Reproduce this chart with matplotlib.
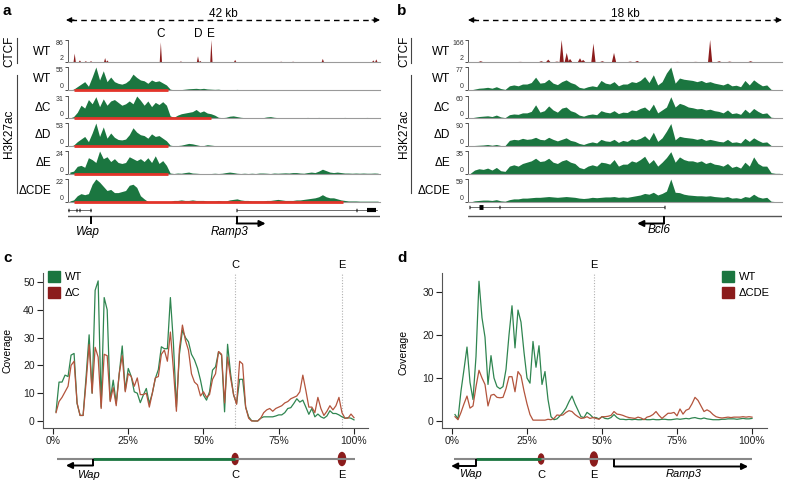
import numpy as np
import matplotlib
matplotlib.use("Agg")
import matplotlib.pyplot as plt
from matplotlib.patches import Ellipse, Patch

plt.rcParams['font.family'] = ['Liberation Sans', 'DejaVu Sans']

W, H = 788, 482
GREEN = '#1b7640'
DARKRED = '#8b1c1c'
BRIGHTRED = '#e3342a'
GREY = '#9a9a9a'
LINE_GREEN = '#2f8550'
LINE_RED = '#b3543c'

# ---------------- panel a data (42 kb locus, 0.5 kb bins) ----------------
a_len_kb = 42
a_bin_kb = 0.5
a_ctcf_pos = [0.9, 1.6, 2.4, 3.1, 5.0, 5.3, 12.5, 15.2, 17.5, 17.8, 19.3, 22.5, 28.7, 30.3, 34.3, 41.1, 41.5]
a_ctcf_val = [34, 8, 5, 5, 17, 8, 77, 4, 24, 6, 86, 10, 3, 3, 14, 8, 12]
a_sites = {'C': 12.5, 'D': 17.5, 'E': 19.3}

a_wt = [0, 2, 8, 14, 20, 9, 31, 55, 24, 46, 20, 31,
        20, 16, 14, 17, 24, 38, 30, 24, 22, 16, 24, 20,
        22, 17, 12, 2, 0.5, 0.5, 1, 2, 3, 3.5, 4, 3,
        4, 2.5, 2, 1.5, 2, 0.5, 0.5, 1, 0.5, 1.5, 0.5, 0.3,
        0.3, 0.5, 0.3, 0.3, 0.3, 0.3, 0.5, 0.3, 0.3, 0.3, 0.3, 0.3,
        0.3, 0.3, 0.5, 0.3, 0.3, 0.3, 0.3, 0.3, 0.5, 0.3, 0.3, 0.3,
        0.3, 0.3, 0.3, 0.3, 0.3, 0.3, 0.3, 0.3, 0.3, 0.3, 0.3, 0.3]
a_dc = [0, 2, 8, 18, 14, 26, 20, 30, 16, 27, 18, 24,
        26, 22, 18, 20, 24, 20, 31, 25, 18, 24, 16, 22,
        19, 23, 18, 3, 1, 4, 6, 7, 8, 9, 12, 8,
        10, 7, 6, 4, 1, 0.5, 1, 2.5, 3, 2, 1, 0.5,
        0.5, 0.5, 0.5, 0.5, 0.5, 1.5, 2, 1, 0.5, 0.5, 0.5, 0.5,
        0.5, 0.5, 0.5, 0.5, 0.8, 0.5, 0.5, 0.8, 0.5, 0.5, 0.5, 0.5,
        0.5, 0.5, 0.8, 0.5, 0.5, 0.5, 0.5, 0.5, 0.8, 0.5, 0.5, 0.5]
a_dd = [0, 2, 10, 16, 22, 10, 30, 53, 22, 44, 18, 30,
        20, 15, 14, 16, 26, 42, 32, 26, 24, 18, 28, 22,
        24, 18, 12, 2, 0.5, 1, 2, 4, 6, 5, 3, 1,
        1, 3, 2, 1, 0.5, 0.5, 0.5, 1, 0.5, 0.5, 0.5, 0.5,
        0.5, 0.5, 0.5, 0.5, 0.5, 0.5, 0.5, 0.5, 0.5, 0.5, 0.5, 0.5,
        0.5, 0.5, 0.5, 0.5, 0.5, 0.5, 0.5, 0.8, 0.5, 0.5, 0.5, 0.5,
        0.5, 0.5, 0.5, 0.5, 0.5, 0.5, 0.5, 0.5, 0.5, 0.5, 0.5, 0.5]
a_de = [2, 3, 8, 9, 7, 17, 15, 12, 24, 16, 18, 13,
        16, 12, 11, 12, 18, 16, 14, 16, 13, 17, 12, 19,
        11, 14, 9, 1, 0.5, 1, 0.8, 1.5, 2, 1, 0.8, 0.5,
        0.5, 0.5, 0.5, 0.8, 0.5, 0.8, 1.5, 2, 1.5, 0.8, 0.5, 0.8,
        0.5, 0.8, 0.5, 1, 1, 0.8, 0.5, 1, 0.8, 1, 1.2, 1,
        1.5, 1.5, 1, 0.8, 1.5, 2, 1.5, 3, 5, 3.5, 2, 1.5,
        2, 1.5, 1, 1, 0.8, 1, 0.8, 1, 0.8, 0.8, 1, 0.8]
a_dcde = [1, 2, 6, 8, 7, 8, 17, 22, 19, 15, 11, 12,
          9, 9, 10, 11, 16, 17, 14, 6, 3, 0.5, 0.3, 0.3,
          0.3, 0.3, 0.3, 0.3, 1.5, 1.5, 2, 1.5, 1.5, 2, 1.5, 1.5,
          1.5, 1, 1, 1, 1.5, 1, 1, 2, 2.5, 3, 2, 1.5,
          1.5, 1, 1, 1, 1, 1.5, 1.5, 2, 2.5, 2, 1.5, 1.5,
          1.5, 2, 2, 2.5, 3, 3.5, 4, 5, 7, 5, 4, 4,
          3, 2, 1.5, 1, 1, 1, 0.8, 0.8, 0.8, 0.8, 0.8, 0.8]
a_names = ['WT', '\u0394C', '\u0394D', '\u0394E', '\u0394CDE']
a_max = [55, 31, 53, 24, 22]
a_red = [(0.8, 13.5), (0.8, 19.3), (0.8, 13.5), (0.8, 13.5), (0.8, 37.0)]

# ---------------- panel b data (18 kb locus, 0.25 kb bins) ----------------
b_len_kb = 18
b_bin_kb = 0.25
b_ctcf_pos = [0.73, 3.0, 4.2, 4.6, 5.1, 5.37, 5.66, 5.85, 6.42, 6.6, 7.19, 7.7, 8.37, 9.3, 9.7,
              12.0, 13.05, 13.88, 14.4, 15.0, 16.2]
b_ctcf_val = [8, 3, 8, 20, 5, 166, 70, 25, 30, 18, 140, 8, 70, 5, 10, 3, 3, 166, 8, 5, 8]

b_wt = [0, 3, 6, 7, 9, 6, 11, 5, 2, 14, 17, 14,
        20, 20, 25, 43, 23, 25, 36, 23, 18, 28, 34, 25,
        20, 9, 6, 11, 14, 11, 32, 23, 20, 28, 14, 20,
        20, 28, 25, 32, 45, 25, 51, 17, 28, 57, 77, 23,
        40, 36, 34, 32, 28, 32, 25, 28, 23, 20, 17, 23,
        14, 16, 11, 32, 17, 34, 23, 14, 17, 2, 1, 1]
b_dc = [0, 2, 4, 5, 6, 4, 8, 3, 1, 9, 11, 10,
        14, 14, 18, 36, 16, 20, 33, 22, 16, 27, 30, 20,
        16, 8, 5, 9, 11, 9, 20, 16, 14, 20, 12, 16,
        15, 22, 20, 26, 30, 20, 38, 14, 22, 30, 58, 30,
        40, 36, 30, 28, 25, 26, 22, 24, 20, 18, 14, 22,
        12, 14, 10, 24, 14, 26, 18, 12, 14, 2, 1, 1]
b_dd = [0, 2, 3, 4, 6, 3, 6, 2, 2, 22, 26, 24,
        30, 26, 28, 34, 26, 24, 34, 26, 20, 26, 32, 22,
        18, 10, 6, 12, 16, 12, 26, 20, 18, 26, 14, 22,
        18, 28, 24, 30, 40, 24, 54, 18, 32, 58, 88, 24,
        38, 34, 32, 30, 26, 30, 22, 26, 22, 18, 16, 26,
        14, 16, 12, 30, 18, 32, 22, 14, 16, 2, 1, 1]
b_de = [1, 6, 8, 7, 9, 6, 10, 5, 4, 12, 14, 12,
        16, 18, 20, 24, 19, 20, 24, 18, 16, 20, 22, 18,
        16, 10, 8, 12, 14, 12, 18, 17, 15, 22, 12, 15,
        15, 20, 18, 22, 27, 16, 22, 12, 18, 25, 34, 18,
        26, 22, 20, 20, 18, 20, 16, 18, 15, 14, 12, 16,
        10, 12, 9, 18, 12, 26, 16, 12, 12, 2, 1, 1]
b_dcde = [0, 3, 4, 5, 5, 4, 6, 3, 2, 6, 8, 8,
          10, 10, 11, 12, 12, 13, 14, 13, 12, 13, 14, 13,
          12, 10, 9, 10, 12, 11, 12, 13, 13, 14, 12, 13,
          12, 14, 16, 18, 22, 20, 25, 18, 22, 28, 59, 25,
          24, 20, 18, 17, 16, 16, 15, 16, 14, 13, 12, 14,
          10, 11, 9, 14, 12, 20, 13, 10, 12, 2, 1, 1]
b_max = [77, 60, 90, 35, 59]

# ---------------- panels c / d data (coverage per percent of region) ----------------
pct = np.arange(1, 101)
c_wt = [3.3, 14, 14, 16.5, 16, 23.7, 24.3, 6.3, 2, 2,
        16, 31, 10, 47, 50.4, 5, 44.4, 40, 7.5, 14.7,
        6.3, 17, 27, 11, 18.9, 16, 10.5, 10, 6.6, 9.3,
        11.7, 6.3, 10, 15.3, 18.5, 26.7, 26, 26, 44.4, 28,
        5, 24, 32.7, 30, 28.5, 24, 22, 19, 14.7, 9.3,
        7.5, 10.5, 18.3, 19.5, 24.9, 23.7, 3.3, 27.6, 17, 9.3,
        6.3, 15, 15, 5, 1.5, 0.1, 0, 0, 1, 1.5,
        1.5, 1.5, 1.5, 1.8, 2.2, 2.2, 3, 4.5, 4.8, 6.3,
        8, 6.8, 7.5, 5, 2.4, 4.5, 1.5, 2.5, 1.5, 1,
        1.8, 3.7, 2.7, 2.7, 2.2, 1.5, 1, 1.2, 1, 0.4]
c_dc = [3, 7, 8.5, 10.5, 12.5, 20, 21.5, 6.5, 2, 2,
        14, 27.5, 10, 26.5, 23, 4.5, 24, 23.5, 7, 12,
        5.5, 17, 23.5, 10.5, 17, 16, 12.5, 15.5, 9.5, 9.5,
        10, 5, 10, 15.5, 16, 24, 25.5, 21.5, 32, 18.5,
        3.5, 26, 34.5, 29, 25.5, 17, 14, 13, 9, 10.5,
        8.5, 9.5, 15, 17, 25, 24, 6.5, 23, 15.5, 9.5,
        6, 21.5, 20.5, 5, 1, 0, 0, 0, 1, 3,
        4, 4.5, 3.5, 4.5, 5, 5.5, 6.5, 7, 8, 8.5,
        9, 10.5, 16.5, 11, 5, 5, 3, 8.5, 4.5, 2,
        3.5, 5.5, 4, 5.5, 8.5, 3, 1, 1, 2.5, 1.2]
d_wt = [1.5, 0.5, 7, 12, 17.2, 9, 5, 15, 32.5, 24,
        19.5, 8.5, 15.2, 10, 8, 7.5, 8, 12, 20, 26.8,
        17, 25.8, 23, 16, 10, 8.8, 18.5, 12.5, 17.5, 8.5,
        11.5, 5, 1, 0.3, 0.5, 1.2, 2, 3, 4.5, 5.8,
        4, 2.5, 1, 0.8, 2, 1.5, 0.8, 0.8, 0.5, 1,
        0.6, 0.5, 0.8, 1.5, 0.8, 0.4, 0.4, 0.3, 0.4, 0.3,
        0.4, 0.3, 0.3, 0.4, 0.3, 0.3, 0.4, 0.3, 0.3, 0.4,
        0.4, 0.3, 0.3, 0.4, 0.5, 0.4, 0.5, 0.6, 0.5, 0.7,
        0.8, 0.6, 0.5, 0.7, 0.5, 0.4, 0.3, 0.3, 0.3, 0.4,
        0.4, 0.5, 0.5, 0.5, 0.4, 0.5, 0.6, 0.5, 0.5, 0.6]
d_dcde = [1, 0.3, 2, 4, 5.8, 3, 3.5, 8, 11.8, 10,
          8.5, 3.5, 6, 6.2, 5.5, 5.4, 5.5, 7.5, 10.3, 10.3,
          6.8, 11.5, 10.5, 7, 4, 1.5, 0.2, 0.2, 0.2, 0.2,
          0.2, 0.4, 0.3, 0.6, 1.4, 1.3, 1.4, 2, 2.4, 2.2,
          1.5, 1, 0.6, 0.7, 1, 0.6, 0.8, 0.6, 0.4, 1,
          1, 1.1, 1.3, 2.2, 1.6, 1.5, 1.3, 1, 0.8, 0.7,
          0.6, 0.9, 0.7, 0.3, 0.9, 1.1, 1.5, 2.2, 1.3, 0.6,
          1.2, 1.8, 1.8, 2, 1.2, 2.8, 1.6, 2.5, 2.8, 4,
          5.5, 4.8, 3.5, 2.2, 2.6, 2.2, 1.5, 1, 0.8, 0.7,
          0.8, 0.9, 0.8, 0.9, 0.9, 0.9, 1, 0.9, 1, 0.9]

fig = plt.figure(figsize=(W / 100, H / 100), dpi=100)


def px_axes(x0, y0, x1, y1):
    # axes placed by pixel box (y measured from the top)
    return fig.add_axes([x0 / W, 1 - y1 / H, (x1 - x0) / W, (y1 - y0) / H])


ov = px_axes(0, 0, W, H)
ov.set_xlim(0, W)
ov.set_ylim(H, 0)
ov.axis('off')

rows = [(40, 62), (67, 90), (96, 118), (123, 146), (151, 174), (179, 202)]


def track_axes(x0, x1, top, base, length, ymin, ymax, lo_lab, hi_lab):
    ax = px_axes(x0, top, x1, base)
    ax.set_xlim(0, length)
    ax.set_ylim(ymin, ymax)
    ax.patch.set_alpha(0)
    for s in ['top', 'right']:
        ax.spines[s].set_visible(False)
    ax.spines['bottom'].set_color(GREY)
    ax.spines['bottom'].set_linewidth(0.8)
    ax.spines['left'].set_color('#444444')
    ax.spines['left'].set_linewidth(0.6)
    ax.set_xticks([])
    ax.set_yticks([ymin, ymax])
    labs = ax.set_yticklabels([lo_lab, hi_lab], fontsize=5)
    labs[0].set_va('bottom')
    labs[1].set_va('top')
    ax.tick_params(axis='y', length=2, width=0.6, pad=1, colors='#333333')
    return ax


def draw_tracks(x0, x1, length, bin_kb, ctcf_pos, ctcf_val, ctcf_max, hw, tracks, maxes, red=None):
    top, base = rows[0]
    ax = track_axes(x0, x1, top, base, length, 2, ctcf_max, '2', str(ctcf_max))
    for p, v in zip(ctcf_pos, ctcf_val):
        ax.fill([p - hw, p, p + hw], [2, v, 2], color=DARKRED, lw=0)
    for i, vals in enumerate(tracks):
        top, base = rows[i + 1]
        ax = track_axes(x0, x1, top, base, length, 0, maxes[i], '0', str(maxes[i]))
        xb = (np.arange(len(vals)) + 0.5) * bin_kb
        ax.fill_between(xb, 0, vals, color=GREEN, lw=0)
        if red is not None:
            s, e = red[i]
            ax.plot([s, e], [0, 0], color=BRIGHTRED, lw=2, solid_capstyle='butt',
                    clip_on=False, zorder=3)


def side_labels(xr, xg, xl):
    for i, name in enumerate(['WT'] + a_names):
        top, base = rows[i]
        ov.text(xr, (top + base) / 2 + 1, name, ha='right', va='center', fontsize=8.5)
    ov.text(xg, 51, 'CTCF', rotation=90, ha='center', va='center', fontsize=8.5)
    ov.plot([xl, xl], [38, 63], color='#444444', lw=0.8)
    ov.text(xg, 134, 'H3K27ac', rotation=90, ha='center', va='center', fontsize=8.5)
    ov.plot([xl, xl], [75, 193], color='#444444', lw=0.8)


def kb_arrow(x0, x1, label):
    ov.plot([x0 + 5, x1 - 5], [20, 20], color='k', lw=1, ls=(0, (4, 3)))
    for a, b in [(x0 + 8, x0), (x1 - 8, x1)]:
        ov.annotate('', xy=(b, 20), xytext=(a, 20),
                    arrowprops=dict(arrowstyle='-|>', color='k', lw=0.8,
                                    mutation_scale=8, shrinkA=0, shrinkB=0))
    ov.text((x0 + x1) / 2, 14, label, ha='center', va='center', fontsize=8.5)


def elbow(ax, x_tss, y0, y1, x_end, lw=1.4):
    ax.plot([x_tss, x_tss], [y0, y1], color='k', lw=lw, solid_capstyle='butt')
    ax.annotate('', xy=(x_end, y1), xytext=(x_tss, y1),
                arrowprops=dict(arrowstyle='-|>', color='k', lw=lw,
                                mutation_scale=9, shrinkA=0, shrinkB=0))


# ---------------- panel a ----------------
ov.text(3, 11, 'a', fontsize=11, fontweight='bold', ha='left', va='center')
kb_arrow(66, 380, '42 kb')
draw_tracks(68, 380, a_len_kb, a_bin_kb, a_ctcf_pos, a_ctcf_val, 86, 0.15,
            [a_wt, a_dc, a_dd, a_de, a_dcde], a_max, a_red)
side_labels(51, 9, 17)
ta = px_axes(68, 30, 380, 38)
ta.set_xlim(0, a_len_kb)
ta.axis('off')
for k, v in a_sites.items():
    ta.text(v, 0.5, k, ha='center', va='center', fontsize=8.5)

ga = px_axes(68, 203, 380, 240)
ga.set_xlim(0, a_len_kb)
ga.set_ylim(240, 203)
ga.axis('off')
ga.plot([0.05, 3.05], [209.5, 209.5], color='#555555', lw=0.6)
ga.plot([22.7, 41.6], [209.5, 209.5], color='#555555', lw=0.6)
for e in [0.05, 1.17, 1.6, 3.05, 22.7, 38.8]:
    ga.plot([e - 0.08, e + 0.08], [209.5, 209.5], color='k', lw=2.5, solid_capstyle='butt')
ga.plot([40.3, 41.4], [209.5, 209.5], color='k', lw=3, solid_capstyle='butt')
ga.plot([-0.4, 42], [216, 216], color='#555555', lw=1)
elbow(ga, 3.1, 216, 223.5, -0.3)
elbow(ga, 22.7, 216, 223.5, 26.6)
ga.text(2.7, 232, 'Wap', style='italic', ha='center', va='center', fontsize=8.5)
ga.text(21.8, 232, 'Ramp3', style='italic', ha='center', va='center', fontsize=8.5)

# ---------------- panel b ----------------
ov.text(397, 11, 'b', fontsize=11, fontweight='bold', ha='left', va='center')
kb_arrow(468, 782, '18 kb')
draw_tracks(468, 782, b_len_kb, b_bin_kb, b_ctcf_pos, b_ctcf_val, 166, 0.12,
            [b_wt, b_dc, b_dd, b_de, b_dcde], b_max)
side_labels(450, 404, 411)

gb = px_axes(468, 200, 782, 240)
gb.set_xlim(0, b_len_kb)
gb.set_ylim(240, 200)
gb.axis('off')
gb.plot([0.1, 11.24], [207, 207], color='#555555', lw=0.6)
for e in [0.1, 1.8, 11.24]:
    gb.plot([e - 0.03, e + 0.03], [207, 207], color='k', lw=2.5, solid_capstyle='butt')
gb.plot([0.65, 0.85], [207, 207], color='k', lw=3.5, solid_capstyle='butt')
gb.plot([0, 18], [216, 216], color='#555555', lw=1)
elbow(gb, 11.24, 216, 223.5, 9.7)
gb.text(10.95, 230, 'Bcl6', style='italic', ha='center', va='center', fontsize=8.5)


# ---------------- panels c and d ----------------
def coverage_axes(x0, x1, zero_px, xmax_px, y_px_per, yticks):
    ax = px_axes(x0, 273, x1, 428)
    ppp = (xmax_px - zero_px) / 100.0
    ax.set_xlim((x0 - zero_px) / ppp, (x1 - zero_px) / ppp)
    ax.set_ylim(-(428 - 421) / y_px_per, (421 - 273) / y_px_per)
    for s in ['top', 'right']:
        ax.spines[s].set_visible(False)
    for s in ['left', 'bottom']:
        ax.spines[s].set_color('#555555')
        ax.spines[s].set_linewidth(0.8)
    ax.set_xticks([0, 25, 50, 75, 100])
    ax.set_xticklabels(['0%', '25%', '50%', '75%', '100%'])
    ax.set_yticks(yticks)
    ax.tick_params(length=4, width=0.8, labelsize=7.5, colors='#222222', pad=2)
    ax.patch.set_alpha(0)
    return ax


def diagram_axes(ax, x0, x1):
    g = px_axes(x0, 444, x1, 482)
    g.set_xlim(ax.get_xlim())
    g.set_ylim(482, 444)
    g.axis('off')
    return g


def site_line(ax, x, label):
    ax.axvline(x, color='#b0b0b0', ls=(0, (1, 1.5)), lw=0.8, zorder=0)
    ax.text(x, 1.02, label, transform=ax.get_xaxis_transform(), ha='center',
            va='bottom', fontsize=8)


# panel c
ov.text(3, 258, 'c', fontsize=11, fontweight='bold', ha='left', va='center')
axc = coverage_axes(43, 368, 53, 354, (421 - 282) / 50.0, [0, 10, 20, 30, 40, 50])
site_line(axc, 60.5, 'C')
site_line(axc, 96, 'E')
axc.plot(pct, c_wt, color=LINE_GREEN, lw=0.9)
axc.plot(pct, c_dc, color=LINE_RED, lw=0.9)
ov.text(8, 350, 'Coverage', rotation=90, ha='center', va='center', fontsize=7.5)
axc.legend(handles=[Patch(color=GREEN, label='WT'), Patch(color=DARKRED, label='\u0394C')],
           loc='upper left', bbox_to_anchor=(48 / W, 1 - 271 / H), bbox_transform=fig.transFigure,
           frameon=False, fontsize=8, handlelength=1.1, handleheight=1.1, handletextpad=0.4,
           labelspacing=0.45, borderpad=0, borderaxespad=0)

gc = diagram_axes(axc, 43, 368)
gc.plot([1.3, 100.3], [459, 459], color='#888888', lw=1.5, solid_capstyle='butt')
gc.plot([13.3, 60.5], [459, 459], color=GREEN, lw=2, solid_capstyle='butt')
gc.add_patch(Ellipse((60.5, 459), 2.0, 11, color=DARKRED))
gc.add_patch(Ellipse((96, 459), 2.4, 13, color=DARKRED))
elbow(gc, 13.3, 459, 465.5, 4.3)
gc.text(11.6, 475, 'Wap', style='italic', ha='center', va='center', fontsize=8)
gc.text(60.5, 475, 'C', ha='center', va='center', fontsize=8)
gc.text(96, 475, 'E', ha='center', va='center', fontsize=8)

# panel d
ov.text(397, 258, 'd', fontsize=11, fontweight='bold', ha='left', va='center')
axd = coverage_axes(442, 767, 452, 752, (421 - 292) / 30.0, [0, 10, 20, 30])
site_line(axd, 47.3, 'E')
axd.plot(pct, d_wt, color=LINE_GREEN, lw=0.9)
axd.plot(pct, d_dcde, color=LINE_RED, lw=0.9)
ov.text(404, 352, 'Coverage', rotation=90, ha='center', va='center', fontsize=7.5)
axd.legend(handles=[Patch(color=GREEN, label='WT'), Patch(color=DARKRED, label='\u0394CDE')],
           loc='upper left', bbox_to_anchor=(722 / W, 1 - 271 / H), bbox_transform=fig.transFigure,
           frameon=False, fontsize=8, handlelength=1.1, handleheight=1.1, handletextpad=0.4,
           labelspacing=0.45, borderpad=0, borderaxespad=0)

gd = diagram_axes(axd, 442, 767)
gd.plot([0.7, 100], [459, 459], color='#888888', lw=1.5, solid_capstyle='butt')
gd.plot([8, 29.7], [459, 459], color=GREEN, lw=2, solid_capstyle='butt')
gd.add_patch(Ellipse((29.7, 459), 1.8, 10, color=DARKRED))
gd.add_patch(Ellipse((47.3, 459), 2.4, 14, color=DARKRED))
elbow(gd, 8, 459, 466, -0.3)
elbow(gd, 54, 459, 466.5, 98.7)
gd.text(6.3, 474, 'Wap', style='italic', ha='center', va='center', fontsize=8)
gd.text(29.7, 475, 'C', ha='center', va='center', fontsize=8)
gd.text(47.3, 475, 'E', ha='center', va='center', fontsize=8)
gd.text(77.3, 474, 'Ramp3', style='italic', ha='center', va='center', fontsize=8)

fig.savefig('out.png', dpi=100)
